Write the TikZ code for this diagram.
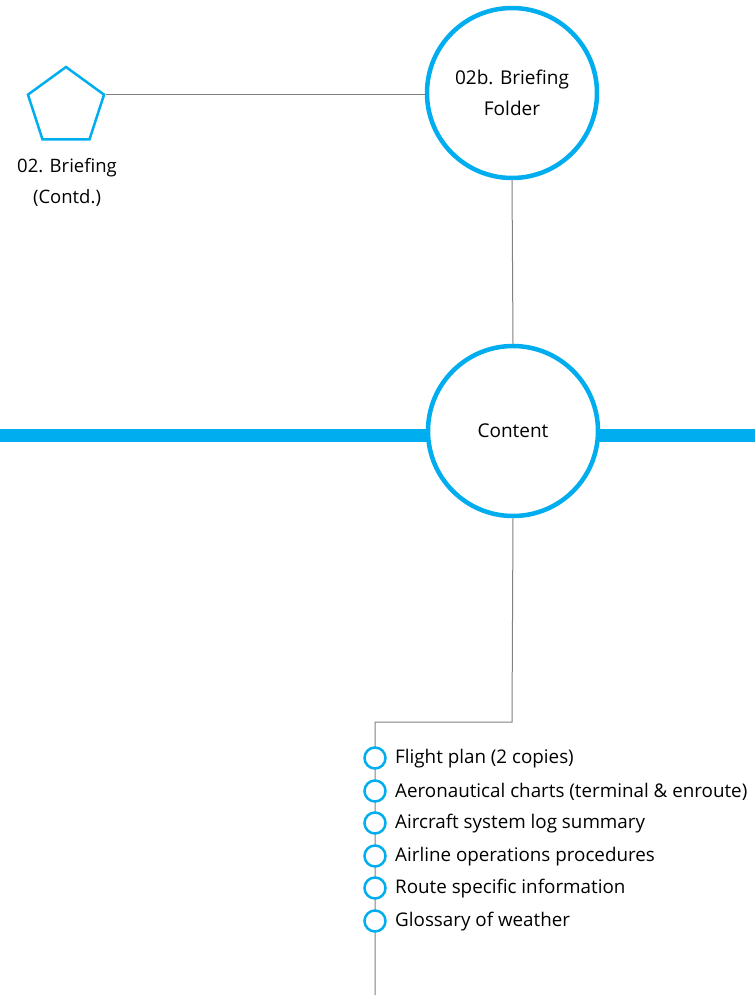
\documentclass[tikz,border=0pt]{standalone}
\usepackage{fontspec}
\setmainfont{Open Sans}
\usetikzlibrary{shapes.geometric}
\definecolor{cy}{HTML}{00AEEF}
\definecolor{gr}{HTML}{808080}
\begin{document}
\begin{tikzpicture}[x=1pt,y=-1pt,
  big/.style={circle,draw=cy,line width=4.5pt,minimum size=170pt,inner sep=0pt,align=center,font=\fontsize{19}{31}\selectfont},
  item/.style={circle,draw=cy,line width=2.5pt,minimum size=21pt,inner sep=0pt},
  lbl/.style={anchor=west,inner sep=0pt,font=\fontsize{18.8}{20}\selectfont},
  conn/.style={draw=gr,line width=1pt}]
\useasboundingbox (0,0) rectangle (755,997);
\fill[white] (0,0) rectangle (755,997);
% thick bar
\draw[cy,line width=13pt] (0,435) -- (755,435);
% nodes
\node[regular polygon,regular polygon sides=5,draw=cy,line width=2.5pt,minimum size=80pt,inner sep=0pt] (pent) at (66,107) {};
\node[align=center,font=\fontsize{18.5}{31}\selectfont] (pentlbl) at (67,182) {02. Briefing\\(Contd.)};
\node[big,fill=white] (folder) at (512,93) {02b. Briefing\\Folder};
\node[big,fill=white] (content) at (513,431) {Content};
\coordinate (c1) at (512,722);
\coordinate (c2) at (375,722);
\coordinate (cend) at (375,995);
\draw[conn] (pent.corner 5) -- (pent.corner 5 -| folder.west);
\draw[conn] (folder.south) -- (content.north);
\draw[conn] (content.south) -- (c1) -- (c2) -- (cend);
\foreach \i/\y/\t in {1/758/Flight plan (2 copies),2/791/Aeronautical charts (terminal \& enroute),3/823/Aircraft system log summary,4/856/Airline operations procedures,5/888/Route specific information,6/921/Glossary of weather}{
  \node[item,fill=white] (b\i) at (375,\y) {};
  \node[lbl] (t\i) at (395,\y+1) {\t};
}
\end{tikzpicture}
\end{document}
